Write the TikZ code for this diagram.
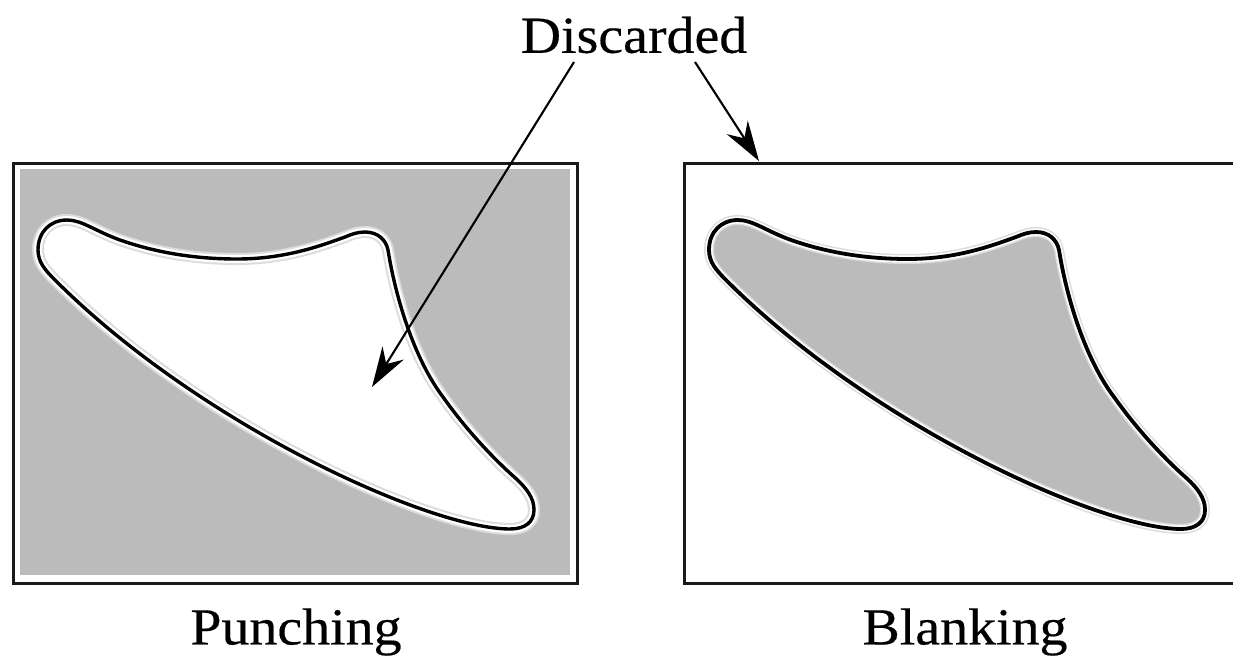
\documentclass[tikz,border=0pt]{standalone}
\usepackage{fontspec}
\setmainfont[FakeStretch=1.075,FakeBold=0.35]{Liberation Serif}
\usetikzlibrary{arrows.meta}
\definecolor{sheet}{HTML}{BBBBBB}
\definecolor{ink}{HTML}{1A1A1A}
\definecolor{halo}{HTML}{DCDCDC}
\newcommand{\finpath}{(38,250)
 .. controls (38,232) and (50,220) .. (67,220)
 .. controls (82,220) and (95,231) .. (120,240)
 .. controls (160,254) and (200,259) .. (237,259)
 .. controls (285,259) and (320,246) .. (345,237)
 .. controls (352,234) and (358,232) .. (365,232)
 .. controls (378,232) and (386,240) .. (388,250)
 .. controls (396,300) and (415,360) .. (443,397)
 .. controls (465,428) and (490,455) .. (512,475)
 .. controls (527,488) and (534,498) .. (534,510)
 .. controls (534,522) and (525,529) .. (510,529)
 .. controls (430,529) and (200,425) .. (55,280)
 .. controls (45,270) and (38,262) .. (38,250) -- cycle}
\tikzset{
  x=1pt,y=-1pt,
  panel/.style={draw=ink,line width=3pt,rectangle,inner sep=0pt,anchor=north west},
  label/.style={inner sep=0pt,font=\fontsize{52}{60}\selectfont,text=black},
  pointer/.style={draw=black,line width=2.1pt,-{Stealth[length=40pt,width=25pt,inset=13pt]}},
}
\begin{document}
\begin{tikzpicture}
\useasboundingbox (0,0) rectangle (1233,659);
% panels
\node[panel,minimum width=564pt,minimum height=420pt] (punch) at (11.5,161.5) {};
\node[panel,minimum width=600pt,minimum height=420pt] (blank) at (682.5,161.5) {};
% left: grey sheet with white hole
\fill[sheet] (20,168.5) rectangle (569.5,575);
\draw[halo,line width=12pt,fill=white] \finpath;
\draw[white,line width=8pt] \finpath;
\draw[black,line width=3.4pt] \finpath;
% right: grey blank
\begin{scope}[xshift=671pt]
\fill[sheet] \finpath;
\draw[halo,line width=10pt] \finpath;
\draw[white,line width=7pt] \finpath;
\draw[black,line width=3.8pt] \finpath;
\end{scope}
% labels
\node[label] (disc) at (634,35) {Discarded};
\node[label] (lpunch) at (296,632) {Punching};
\node[label] (lblank) at (965,632) {Blanking};
% connectors
\coordinate (s1) at (574,62);
\coordinate (e1) at (372,387);
\coordinate (s2) at (695,62);
\coordinate (e2) at (759,161);
\draw[pointer] (s1) -- (e1);
\draw[pointer] (s2) -- (e2);
\end{tikzpicture}
\end{document}
